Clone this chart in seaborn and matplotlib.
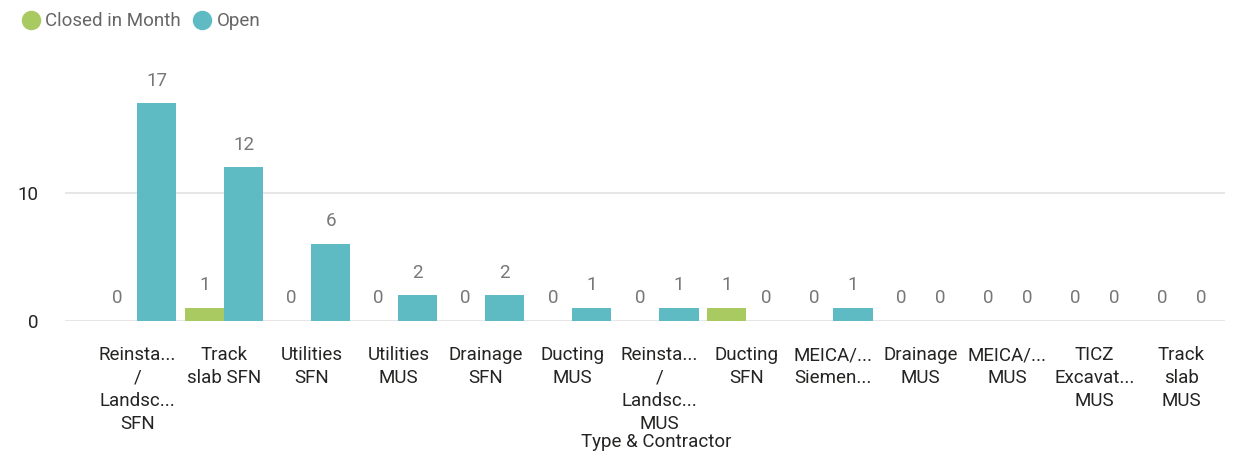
import matplotlib
matplotlib.use("Agg")
import matplotlib.pyplot as plt
from matplotlib.lines import Line2D
import seaborn as sns
import pandas as pd

categories = [
    "Reinsta...\n/\nLandsc...\nSFN",
    "Track\nslab SFN",
    "Utilities\nSFN",
    "Utilities\nMUS",
    "Drainage\nSFN",
    "Ducting\nMUS",
    "Reinsta...\n/\nLandsc...\nMUS",
    "Ducting\nSFN",
    "MEICA/...\nSiemen...",
    "Drainage\nMUS",
    "MEICA/...\nMUS",
    "TICZ\nExcavat...\nMUS",
    "Track\nslab\nMUS",
]
closed_in_month = [0, 1, 0, 0, 0, 0, 0, 1, 0, 0, 0, 0, 0]
open_items = [17, 12, 6, 2, 2, 1, 1, 0, 1, 0, 0, 0, 0]
series = ["Closed in Month", "Open"]
colors = ["#A9C961", "#5FBBC3"]

df = pd.DataFrame({
    "category": categories * 2,
    "series": [series[0]] * len(categories) + [series[1]] * len(categories),
    "value": closed_in_month + open_items,
})

sns.set_style("white")
plt.rcParams["font.family"] = ["Roboto", "DejaVu Sans"]

fig = plt.figure(figsize=(12.41, 4.61), dpi=100)
ax = fig.add_axes([65 / 1241, 1 - 321 / 461, (1225 - 65) / 1241, 256 / 461])

sns.barplot(data=df, x="category", y="value", hue="series", order=categories,
            hue_order=series, palette=colors, width=0.9, saturation=1,
            linewidth=0, legend=False, ax=ax)

for c in ax.containers:
    ax.bar_label(c, fmt="%d", padding=10, color="#777777", fontsize=13.5)

ax.set_ylim(0, 20)
ax.set_xlim(-0.83, 12.5)
ax.set_yticks([0, 10])
ax.set_xticks(range(len(categories)))
ax.set_xticklabels(categories, linespacing=1.35)
ax.tick_params(axis="y", length=0, labelsize=13.5, labelcolor="#252423", pad=19)
ax.tick_params(axis="x", length=0, labelsize=13.5, labelcolor="#252423", pad=18)
ax.yaxis.grid(True, color="#e4e4e4", linewidth=1.3)
ax.set_axisbelow(True)
sns.despine(ax=ax, left=True, bottom=True)
ax.set_ylabel("")
ax.set_xlabel("Type & Contractor", fontsize=13.5, color="#252423", labelpad=0)
ax.xaxis.label.set_x(0.51)

handles = [Line2D([], [], marker="o", linestyle="", markersize=13,
                  markerfacecolor=col, markeredgecolor=col) for col in colors]
fig.legend(handles, series, loc="upper left", bbox_to_anchor=(0.0, 1.01),
           ncol=2, frameon=False, handletextpad=0.0, columnspacing=0.4,
           handlelength=1.5, fontsize=13.5, labelcolor="#666666")

fig.savefig("out.png", dpi=100)
